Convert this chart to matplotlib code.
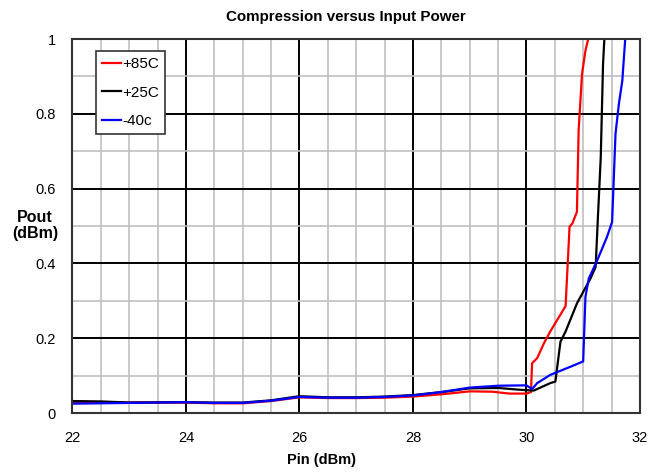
import matplotlib
matplotlib.use("Agg")
import matplotlib.pyplot as plt
from matplotlib.ticker import MultipleLocator

plt.rcParams['font.family'] = ['Liberation Sans', 'DejaVu Sans']

pin_85 = [22.0, 23.0, 24.0, 24.5, 25.0, 25.5, 26.0, 26.5, 27.0, 27.5, 28.0, 28.5, 29.0, 29.4, 29.7, 30.0, 30.08, 30.1, 30.19, 30.31, 30.42, 30.69, 30.76, 30.81, 30.89, 30.92, 30.98, 31.04, 31.12]
pout_85 = [0.030, 0.028, 0.028, 0.026, 0.026, 0.032, 0.042, 0.040, 0.040, 0.041, 0.044, 0.050, 0.058, 0.057, 0.052, 0.052, 0.056, 0.133, 0.147, 0.187, 0.218, 0.286, 0.498, 0.507, 0.538, 0.756, 0.907, 0.969, 1.02]

pin_25 = [22.0, 22.5, 23.0, 24.0, 24.5, 25.0, 25.5, 26.0, 26.5, 27.0, 27.5, 28.0, 28.5, 29.0, 29.5, 29.9, 30.13, 30.42, 30.51, 30.6, 30.69, 30.89, 31.13, 31.22, 31.26, 31.31, 31.35, 31.38]
pout_25 = [0.032, 0.031, 0.028, 0.029, 0.028, 0.028, 0.034, 0.045, 0.042, 0.042, 0.044, 0.048, 0.056, 0.066, 0.067, 0.062, 0.060, 0.080, 0.084, 0.191, 0.218, 0.293, 0.360, 0.391, 0.524, 0.684, 0.933, 1.02]

pin_m40 = [22.0, 23.0, 24.0, 24.5, 25.0, 25.5, 26.0, 26.5, 27.0, 27.5, 28.0, 28.5, 29.0, 29.5, 30.0, 30.1, 30.19, 30.42, 30.78, 31.0, 31.04, 31.1, 31.25, 31.42, 31.51, 31.57, 31.63, 31.69, 31.75]
pout_m40 = [0.025, 0.027, 0.029, 0.027, 0.027, 0.033, 0.043, 0.041, 0.041, 0.043, 0.047, 0.056, 0.068, 0.073, 0.074, 0.064, 0.080, 0.102, 0.124, 0.138, 0.311, 0.360, 0.409, 0.471, 0.511, 0.747, 0.827, 0.889, 1.02]

labels = ["+85C", "+25C", "-40c"]
colors = ["#ff0000", "#000000", "#0000ff"]

fig = plt.figure(figsize=(6.49, 4.73), dpi=100)
ax = fig.add_axes([0.1117, 0.1268, 0.8743, 0.7907])

ax.xaxis.set_major_locator(MultipleLocator(2))
ax.xaxis.set_minor_locator(MultipleLocator(0.5))
ax.yaxis.set_major_locator(MultipleLocator(0.2))
ax.yaxis.set_minor_locator(MultipleLocator(0.1))
ax.grid(which='minor', color='#c0c0c0', linewidth=1.2)
ax.grid(which='major', color='#000000', linewidth=1.4)
ax.set_axisbelow(True)

for x, y, lab, c in zip([pin_85, pin_25, pin_m40], [pout_85, pout_25, pout_m40], labels, colors):
    ax.plot(x, y, color=c, linewidth=1.6, label=lab)

ax.set_xlim(22, 32)
ax.set_ylim(0, 1)
ax.set_yticks([0, 0.2, 0.4, 0.6, 0.8, 1.0])
ax.set_yticklabels(["0", "0.2", "0.4", "0.6", "0.8", "1"])
ax.tick_params(which='both', length=0, labelsize=10.5)
ax.tick_params(axis='x', pad=13)
ax.tick_params(axis='y', pad=12)
for s in ax.spines.values():
    s.set_linewidth(1.5)
    s.set_color('#333333')

fig.text(0.533, 0.964, "Compression versus Input Power", fontsize=10.9, fontweight='bold',
         ha='center', va='center')
fig.text(0.496, 0.027, "Pin (dBm)", fontsize=10.5, fontweight='bold', ha='center', va='center')
fig.text(0.054, 0.524, "Pout\n(dBm)", fontsize=11.5, fontweight='bold', ha='center', va='center',
         linespacing=1.1)

leg = ax.legend(loc='upper left', bbox_to_anchor=(0.041, 0.968), fontsize=11,
                frameon=True, fancybox=False, edgecolor='#333333', framealpha=1,
                handlelength=1.25, handletextpad=0.1, labelspacing=0.95, borderpad=0.4,
                borderaxespad=0)
leg.get_frame().set_linewidth(1.2)

fig.savefig("out.png", dpi=100)
